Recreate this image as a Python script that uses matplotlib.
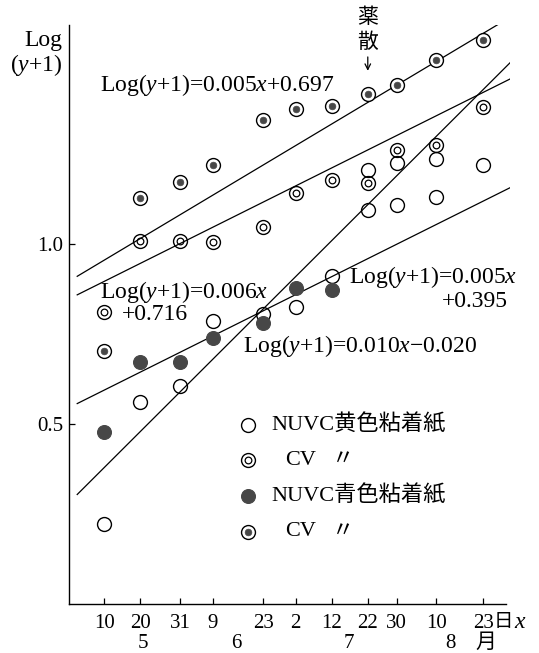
import matplotlib
matplotlib.use('Agg')
import matplotlib.pyplot as plt

plt.rcParams['font.family'] = ['Liberation Serif', 'Noto Sans CJK JP']
plt.rcParams['mathtext.fontset'] = 'custom'
plt.rcParams['mathtext.rm'] = 'Liberation Serif'
plt.rcParams['mathtext.it'] = 'Liberation Serif:italic'

# x = days counted from 1 April (10 May = 40)
tick_days = [40, 50, 61, 70, 84, 93, 103, 113, 121, 132, 145]
tick_labels = ['10', '20', '31', '9', '23', '2', '12', '22', '30', '10', '23']
month_labels = ['5', '6', '7', '8']
month_days = [50.7, 76.7, 107.8, 135.8]

# NUVC, yellow sticky paper (open circles)
nuvc_yellow_days = [40, 50, 61, 70, 84, 93, 103, 113, 113, 121, 121, 132, 132, 145]
nuvc_yellow = [0.223, 0.562, 0.607, 0.787, 0.806, 0.826, 0.912,
               1.095, 1.206, 1.109, 1.226, 1.131, 1.237, 1.220]
# CV, yellow sticky paper (double circles)
cv_yellow_days = [40, 50, 61, 70, 84, 93, 103, 113, 121, 132, 145]
cv_yellow = [0.812, 1.009, 1.009, 1.006, 1.048, 1.142, 1.178, 1.170, 1.262, 1.276, 1.382]
# NUVC, blue sticky paper (filled circles)
nuvc_blue_days = [40, 50, 61, 70, 84, 93, 103]
nuvc_blue = [0.479, 0.673, 0.673, 0.740, 0.782, 0.879, 0.873]
# CV, blue sticky paper (ringed dots)
cv_blue_days = [40, 50, 61, 70, 84, 93, 103, 113, 121, 132, 145]
cv_blue = [0.704, 1.129, 1.173, 1.220, 1.345, 1.376, 1.384, 1.416, 1.443, 1.512, 1.567]

# regression lines  Log(y+1) = a*x + b
fit_slopes = [0.006, 0.005, 0.010, 0.005]
fit_intercepts = [0.716, 0.697, -0.020, 0.395]

gray = '#474747'
ms = 10


def open_circle(ax, x, y, **kw):
    ax.plot(x, y, 'o', ms=ms, mfc='none', mec='black', mew=1.0, ls='none', zorder=3, **kw)


def double_circle(ax, x, y, **kw):
    ax.plot(x, y, 'o', ms=ms, mfc='none', mec='black', mew=1.0, ls='none', zorder=3, **kw)
    ax.plot(x, y, 'o', ms=4.8, mfc='none', mec='black', mew=0.9, ls='none', zorder=3, **kw)


def filled_circle(ax, x, y, **kw):
    ax.plot(x, y, 'o', ms=ms, mfc=gray, mec=gray, mew=0.8, ls='none', zorder=3, **kw)


def ringed_dot(ax, x, y, **kw):
    ax.plot(x, y, 'o', ms=ms, mfc='white', mec='black', mew=1.0, ls='none', zorder=3, **kw)
    ax.plot(x, y, 'o', ms=4.8, mfc=gray, mec=gray, mew=0.5, ls='none', zorder=3, **kw)


fig = plt.figure(figsize=(5.39, 6.53), dpi=100)
ax = fig.add_axes([0.128, 0.0746, 0.8182, 0.8871])

x0, x1 = 32.5, 152.4
for a, b in zip(fit_slopes, fit_intercepts):
    ax.plot([x0, x1], [a * x0 + b, a * x1 + b], color='black', lw=0.9, zorder=2)

open_circle(ax, nuvc_yellow_days, nuvc_yellow)
double_circle(ax, cv_yellow_days, cv_yellow)
filled_circle(ax, nuvc_blue_days, nuvc_blue)
ringed_dot(ax, cv_blue_days, cv_blue)

ax.set_xlim(30.22, 152.4)
ax.set_ylim(0, 1.609)
ax.spines['top'].set_visible(False)
ax.spines['right'].set_visible(False)
ax.spines['bottom'].set_bounds(30.22, 151.4)
ax.spines['left'].set_linewidth(1.0)
ax.spines['bottom'].set_linewidth(1.0)

ax.set_xticks(tick_days)
ax.set_xticklabels(tick_labels)
ax.set_yticks([0.5, 1.0])
ax.set_yticklabels(['0.5', '1.0'])
ax.tick_params(direction='in', length=4, width=0.9, labelsize=15)
ax.tick_params(axis='x', pad=7)
ax.tick_params(axis='y', pad=4)

tr = ax.get_xaxis_transform()
for d, m in zip(month_days, month_labels):
    ax.text(d, -0.067, m, transform=tr, ha='center', va='center', fontsize=15)
ax.text(0.946, -0.067, '月', transform=ax.transAxes, ha='center', va='center', fontsize=15)
ax.text(0.963, -0.031, '日', transform=ax.transAxes, ha='left', va='center', fontsize=14)
ax.text(1.024, -0.031, '$x$', transform=ax.transAxes, ha='center', va='center', fontsize=17)

ax.text(-0.016, 0.974, 'Log', transform=ax.transAxes, ha='right', va='center', fontsize=17)
ax.text(-0.016, 0.931, '($y$+1)', transform=ax.transAxes, ha='right', va='center', fontsize=17)

eq = dict(fontsize=17, va='center')
ax.text(38.8, 1.443, 'Log($y$+1)=0.005$x$+0.697', ha='left', **eq)
ax.text(38.8, 0.868, 'Log($y$+1)=0.006$x$', ha='left', **eq)
ax.text(44.9, 0.806, '+0.716', ha='left', **eq)
ax.text(107.8, 0.910, 'Log($y$+1)=0.005$x$', ha='left', **eq)
ax.text(151.7, 0.842, '+0.395', ha='right', **eq)
ax.text(78.4, 0.7175, 'Log($y$+1)=0.010$x$\u22120.020', ha='left', **eq)

# spraying date
ax.text(113, 1.629, '薬', ha='center', va='center', fontsize=15, clip_on=False)
ax.text(113, 1.559, '散', ha='center', va='center', fontsize=15, clip_on=False)
ax.annotate('', xy=(113, 1.474), xytext=(113, 1.528),
            arrowprops=dict(arrowstyle='->', lw=0.9, color='black'))

# legend
legend_rows = [0.3095, 0.249, 0.187, 0.125]
kw = dict(transform=ax.transAxes, clip_on=False)
open_circle(ax, [0.406], [legend_rows[0]], **kw)
double_circle(ax, [0.406], [legend_rows[1]], **kw)
filled_circle(ax, [0.406], [legend_rows[2]], **kw)
ringed_dot(ax, [0.406], [legend_rows[3]], **kw)
ax.text(0.460, legend_rows[0], 'NUVC黄色粘着紙', transform=ax.transAxes, va='center', fontsize=16)
ax.text(0.490, legend_rows[1], 'CV', transform=ax.transAxes, va='center', fontsize=16)
ax.text(0.596, legend_rows[1], '〃', transform=ax.transAxes, va='center', fontsize=16)
ax.text(0.460, legend_rows[2], 'NUVC青色粘着紙', transform=ax.transAxes, va='center', fontsize=16)
ax.text(0.490, legend_rows[3], 'CV', transform=ax.transAxes, va='center', fontsize=16)
ax.text(0.596, legend_rows[3], '〃', transform=ax.transAxes, va='center', fontsize=16)

fig.savefig('out.png', dpi=100)
